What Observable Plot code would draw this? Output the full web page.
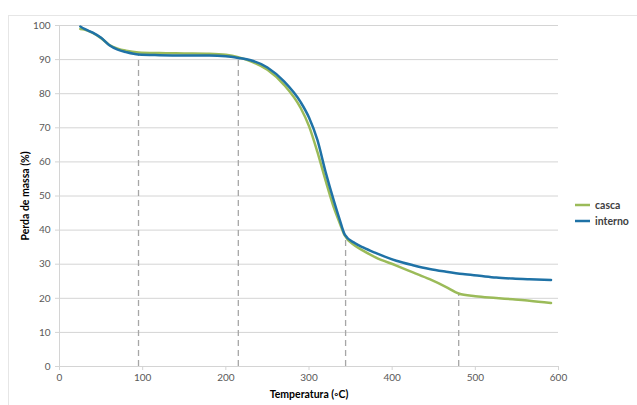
<!DOCTYPE html>
<html><head><meta charset="utf-8">
<script src="https://cdn.jsdelivr.net/npm/d3@7"></script>
<script src="https://cdn.jsdelivr.net/npm/@observablehq/plot@0.6"></script>
<style>
body{margin:0;background:#fff;}
#wrap{position:relative;width:637px;height:405px;overflow:hidden;}
#border{position:absolute;left:8px;top:15px;width:700px;height:500px;border-left:1px solid #e6e6e6;border-top:1px solid #e6e6e6;pointer-events:none;}
#wrap svg{position:absolute;left:0;top:0;}
g[aria-label="x-axis label"] text, g[aria-label="y-axis label"] text{font-weight:bold;fill:#000;font-size:10.5px;}
</style>
</head><body>
<div id="wrap"><div id="border"></div></div>
<script>
const seriesNames = ["casca", "interno"];
const seriesColors = ["#9BBB59", "#1F72A6"];

const cascaT = [25,30,40,50,60,70,80,95,120,150,180,200,215,230,250,270,290,300,310,320,330,337,343,355,365,380,405,425,445,465,480,500,525,545,565,591];
const cascaV = [99.0,98.8,97.8,96.3,94.3,93.2,92.6,92.1,91.9,91.8,91.7,91.4,90.7,89.5,87.0,82.6,75.8,70.5,63.0,54.5,46.5,42.0,38.4,35.5,34.0,32.0,29.6,27.6,25.6,23.3,21.4,20.6,20.1,19.7,19.3,18.6];
const internoT = [25,30,40,50,60,70,80,95,120,150,180,200,215,230,250,270,290,300,310,320,330,337,343,355,365,380,405,425,445,465,485,505,525,545,565,591];
const internoV = [99.7,99.0,97.9,96.4,94.2,92.9,92.2,91.5,91.3,91.2,91.2,91.0,90.5,89.8,87.7,83.6,77.5,73.0,66.5,57.0,48.5,43.0,38.7,36.2,34.9,33.3,31.0,29.7,28.6,27.8,27.1,26.6,26.1,25.8,25.6,25.4];

const dashT = [95,215,344,480];
const dashTop = [92,90.5,38.2,21.3];

const xTicks = [0,100,200,300,400,500,600];
const yTicks = [0,10,20,30,40,50,60,70,80,90,100];

const data = [
  ...cascaT.map((t,i)=>({t, v:cascaV[i], s:"casca"})),
  ...internoT.map((t,i)=>({t, v:internoV[i], s:"interno"}))
];
const dashes = dashT.map((t,i)=>({t, top:dashTop[i]}));

const plot = Plot.plot({
  width: 637, height: 405,
  marginLeft: 59, marginRight: 79, marginTop: 25, marginBottom: 39,
  style: {fontFamily: "Lato, 'Open Sans', sans-serif", fontSize: "10px", color: "#595959", background: "transparent"},
  x: {domain: [0,600]},
  y: {domain: [0,100]},
  color: {domain: seriesNames, range: seriesColors},
  marks: [
    Plot.gridY(yTicks, {stroke: "#d4d4d4", strokeOpacity: 1, strokeWidth: 1}),
    Plot.ruleX([0], {stroke: "#d4d4d4"}),
    Plot.axisX(xTicks, {tickSize: 4, tickPadding: 3, stroke: "#d4d4d4", fill: "#595959", label: "Temperatura (◦C)", labelAnchor: "center", labelOffset: 31, labelArrow: "none"}),
    Plot.axisY(yTicks, {tickSize: 4, tickPadding: 5, stroke: "#d4d4d4", fill: "#595959", label: "Perda de massa (%)", labelAnchor: "center", labelOffset: 38, labelArrow: "none"}),
    Plot.ruleX(dashes, {x: "t", y1: 0, y2: "top", stroke: "#a6a6a6", strokeWidth: 1.3, strokeDasharray: "6,4"}),
    Plot.line(data, {x: "t", y: "v", z: "s", stroke: "s", strokeWidth: 2.5, curve: "monotone-x"})
  ]
});

const svg = d3.select(plot);
const leg = svg.append("g").attr("font-size", "10.5px").attr("font-weight", "bold").attr("text-anchor", "start");
seriesNames.forEach((n,i)=>{
  const y = 205 + i*16;
  leg.append("line").attr("x1",575).attr("x2",590).attr("y1",y).attr("y2",y)
     .attr("stroke",seriesColors[i]).attr("stroke-width",2.5);
  leg.append("text").attr("x",595).attr("y",y).attr("dy","0.35em").attr("text-anchor","start").attr("fill","#404040").text(n);
});
document.getElementById("wrap").appendChild(plot);
</script>
</body></html>
